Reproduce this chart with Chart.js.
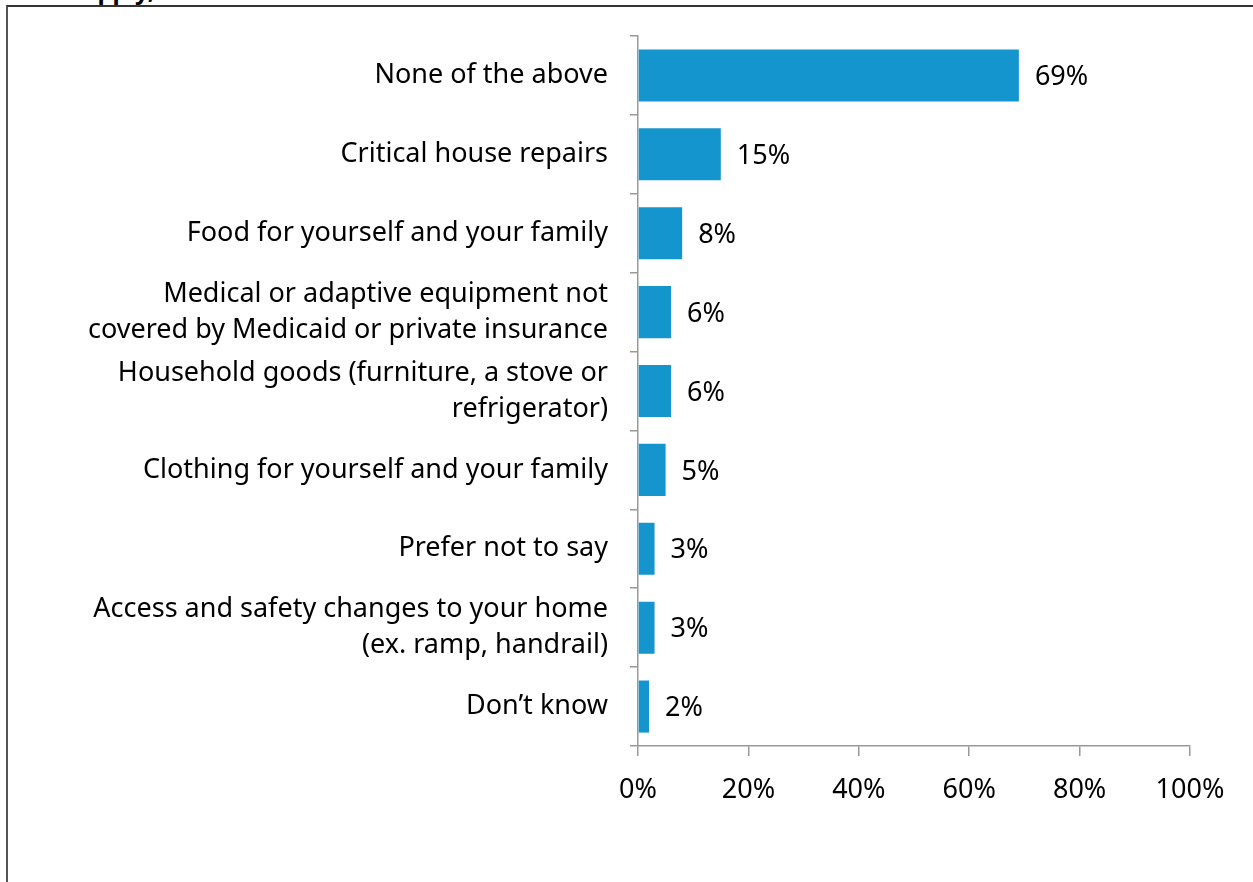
<!DOCTYPE html>
<html>
<head>
<meta charset="utf-8">
<script src="https://cdn.jsdelivr.net/npm/chart.js@4.4.0/dist/chart.umd.min.js"></script>
<style>
  html, body { margin: 0; padding: 0; background: #fff; overflow: hidden; }
  #wrap { position: relative; width: 1253px; height: 882px; overflow: hidden; }
  #frame { position: absolute; left: 6px; top: 5px; width: 1300px; height: 900px;
           border-left: 2px solid #555; border-top: 2px solid #333; }
  #title { position: absolute; left: -87px; top: -27px; line-height: 32px; font: bold 24px "Noto Sans", sans-serif; color: #000; white-space: nowrap; }
  canvas { position: absolute; left: 0; top: 0; }
</style>
</head>
<body>
<div id="wrap">
  <div id="title">Select all that apply,</div>
  <div id="frame"></div>
  <canvas id="chart" width="1253" height="882"></canvas>
</div>
<script>
document.addEventListener('DOMContentLoaded', function () {
    // data
    const categories = [
        'None of the above',
        'Critical house repairs',
        'Food for yourself and your family',
        ['Medical or adaptive equipment not', 'covered by Medicaid or private insurance'],
        ['Household goods (furniture, a stove or', 'refrigerator)'],
        'Clothing for yourself and your family',
        'Prefer not to say',
        ['Access and safety changes to your home', '(ex. ramp, handrail)'],
        'Don\u2019t know'
    ];
    const percents = [69, 15, 8, 6, 6, 5, 3, 3, 2];
    const xTicks = [0, 20, 40, 60, 80, 100];

    const fontFamily = '"Noto Sans", sans-serif';

    // value labels at the end of each bar
    const valueLabels = {
        id: 'valueLabels',
        afterDatasetsDraw(chart) {
            const ctx = chart.ctx;
            const meta = chart.getDatasetMeta(0);
            ctx.save();
            ctx.font = '27px ' + fontFamily;
            ctx.fillStyle = '#000';
            ctx.textAlign = 'left';
            ctx.textBaseline = 'middle';
            meta.data.forEach((bar, i) => {
                ctx.fillText(percents[i] + '%', bar.x + 16, bar.y + 2);
            });
            ctx.restore();
        }
    };

    const ctx = document.getElementById('chart').getContext('2d');
    new Chart(ctx, {
        type: 'bar',
        data: {
            labels: categories,
            datasets: [{
                data: percents,
                backgroundColor: '#1595cd',
                borderWidth: 0,
                barPercentage: 0.66,
                categoryPercentage: 1.0
            }]
        },
        options: {
            indexAxis: 'y',
            responsive: false,
            animation: false,
            layout: { padding: { top: 36, right: 63, left: 0, bottom: 0 } },
            scales: {
                x: {
                    min: 0,
                    max: 100,
                    afterBuildTicks: (scale) => { scale.ticks = xTicks.map(v => ({ value: v })); },
                    afterFit: (scale) => { scale.height = 136; },
                    grid: { drawOnChartArea: false, tickLength: 10, color: '#999', lineWidth: 1.5 },
                    border: { display: true, color: '#999', width: 1.5 },
                    ticks: {
                        color: '#000',
                        padding: 18,
                        font: { family: fontFamily, size: 27 },
                        callback: (v) => v + '%'
                    }
                },
                y: {
                    afterFit: (scale) => {
                        scale.width = 638;
                        scale.paddingTop = 0;
                        scale.paddingBottom = 0;
                    },
                    grid: { drawOnChartArea: false, offset: true, tickLength: 8, color: '#999', lineWidth: 1.5 },
                    border: { display: true, color: '#999', width: 1.5 },
                    ticks: {
                        color: '#000',
                        padding: 22,
                        font: { family: fontFamily, size: 27, lineHeight: 1.33 },
                        autoSkip: false
                    }
                }
            },
            plugins: {
                legend: { display: false },
                tooltip: { enabled: false }
            }
        },
        plugins: [valueLabels]
    });
});
</script>
</body>
</html>
